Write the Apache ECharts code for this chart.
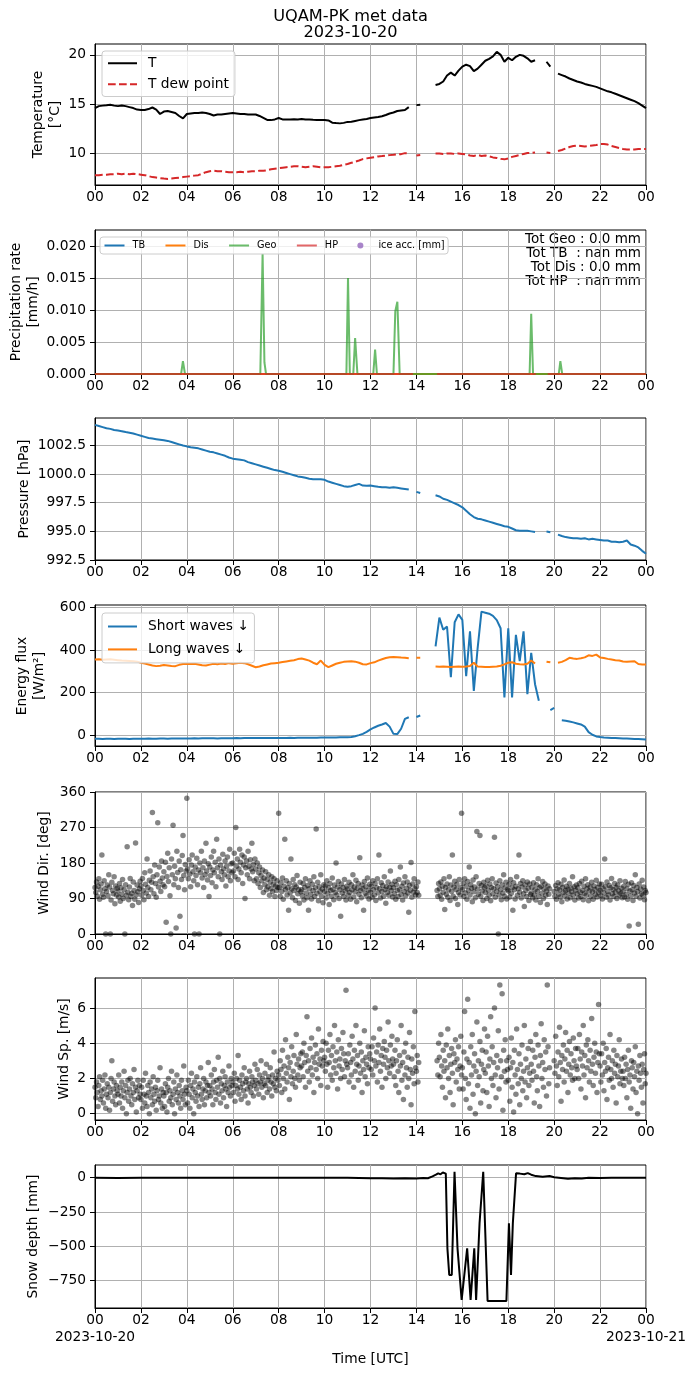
<!DOCTYPE html>
<html>
<head>
<meta charset="utf-8">
<title>UQAM-PK met data</title>
<script src="https://cdn.jsdelivr.net/npm/echarts@6.0.0/dist/echarts.min.js"></script>
<style>
  html, body { margin: 0; padding: 0; background: #fff; }
  #container { width: 696px; height: 1377px; }
</style>
</head>
<body>
<div id="container"></div>
<script>
const N = null;
const FONT = "DejaVu Sans";

// 10-minute series, 00:00 -> 24:00 (145 values, one row = 2 hours)
const temperature = [
  14.6, 14.8, 14.85, 14.88, 14.93, 14.85, 14.8, 14.87, 14.8, 14.7, 14.6, 14.45,
  14.4, 14.4, 14.5, 14.66, 14.45, 14.0, 14.25, 14.3, 14.2, 14.1, 13.8, 13.55,
  14.0, 14.05, 14.1, 14.1, 14.15, 14.1, 14.0, 13.85, 13.95, 13.95, 14.0, 14.05,
  14.1, 14.05, 14.0, 14.0, 13.95, 13.95, 13.95, 13.8, 13.6, 13.4, 13.38, 13.45,
  13.6, 13.45, 13.45, 13.45, 13.48, 13.45, 13.5, 13.45, 13.45, 13.42, 13.4, 13.38,
  13.4, 13.35, 13.12, 13.08, 13.05, 13.1, 13.2, 13.22, 13.3, 13.38, 13.45, 13.5,
  13.6, 13.65, 13.7, 13.78, 13.9, 14.05, 14.15, 14.3, 14.35, 14.4, 14.7, N,
  14.9, 14.95, N, N, N, 16.95, 17.05, 17.3, 17.9, 18.2, 17.9, 18.4,
  18.8, 19.0, 18.85, 18.35, 18.6, 19.0, 19.4, 19.6, 19.85, 20.3, 20.0, 19.3,
  19.7, 19.45, 19.8, 20.0, 19.9, 19.65, 19.3, 19.45, N, N, 19.3, 18.8,
  N, 18.1, 17.95, 17.8, 17.6, 17.45, 17.3, 17.2, 17.05, 16.95, 16.85, 16.75,
  16.6, 16.45, 16.3, 16.2, 16.05, 15.9, 15.75, 15.6, 15.45, 15.3, 15.1, 14.85,
  14.6
];
const dewPoint = [
  7.8, 7.8, 7.85, 7.85, 7.9, 7.9, 7.95, 7.9, 7.95, 7.9, 7.95, 7.9,
  7.85, 7.8, 7.7, 7.6, 7.55, 7.5, 7.45, 7.42, 7.45, 7.5, 7.55, 7.6,
  7.65, 7.7, 7.75, 7.8, 7.95, 8.1, 8.2, 8.25, 8.2, 8.2, 8.15, 8.1,
  8.1, 8.1, 8.15, 8.1, 8.15, 8.2, 8.2, 8.25, 8.25, 8.3, 8.4, 8.45,
  8.5, 8.55, 8.6, 8.65, 8.7, 8.7, 8.65, 8.6, 8.65, 8.7, 8.65, 8.6,
  8.6, 8.6, 8.65, 8.7, 8.75, 8.85, 8.93, 9.05, 9.16, 9.28, 9.43, 9.5,
  9.56, 9.62, 9.7, 9.73, 9.78, 9.83, 9.86, 9.9, 9.93, 10.03, 10.0, N,
  9.8, 9.85, N, N, N, 10.0, 10.0, 9.95, 10.0, 10.0, 9.95, 10.0,
  9.95, 9.9, 9.8, 9.75, 9.85, 9.75, 9.8, 9.7, 9.6, 9.55, 9.45, 9.4,
  9.5, 9.65, 9.75, 9.85, 9.95, 10.05, 10.05, 10.1, N, N, 10.1, 10.05,
  N, 10.25, 10.35, 10.5, 10.65, 10.75, 10.8, 10.75, 10.7, 10.75, 10.8, 10.85,
  10.95, 10.95, 10.9, 10.75, 10.65, 10.55, 10.45, 10.4, 10.4, 10.4, 10.45, 10.45,
  10.45
];
const pressure = [
  1004.3, 1004.2, 1004.1, 1004.0, 1003.95, 1003.85, 1003.8, 1003.75, 1003.67, 1003.62, 1003.55, 1003.45,
  1003.35, 1003.25, 1003.15, 1003.1, 1003.05, 1003.0, 1002.95, 1002.9, 1002.8, 1002.7, 1002.6, 1002.5,
  1002.42, 1002.35, 1002.3, 1002.25, 1002.15, 1002.05, 1001.95, 1001.9, 1001.8, 1001.7, 1001.6, 1001.45,
  1001.35, 1001.3, 1001.25, 1001.2, 1001.05, 1000.95, 1000.85, 1000.75, 1000.65, 1000.55, 1000.45, 1000.35,
  1000.3, 1000.2, 1000.1, 1000.0, 999.9, 999.8, 999.75, 999.68, 999.6, 999.55, 999.55, 999.55,
  999.5, 999.35, 999.25, 999.15, 999.05, 998.95, 998.9, 998.95, 999.05, 999.15, 999.0, 998.98,
  999.0, 998.95, 998.9, 998.85, 998.85, 998.8, 998.85, 998.8, 998.75, 998.7, 998.65, N,
  998.45, 998.35, N, N, N, 998.15, 998.05, 997.85, 997.75, 997.6, 997.45, 997.3,
  997.1, 996.8, 996.5, 996.25, 996.1, 996.05, 995.95, 995.85, 995.75, 995.65, 995.55, 995.45,
  995.4, 995.25, 995.1, 995.05, 995.05, 995.05, 995.0, 994.95, N, N, 994.98, 994.92,
  N, 994.72, 994.6, 994.5, 994.45, 994.4, 994.4, 994.35, 994.4, 994.3, 994.35, 994.3,
  994.25, 994.2, 994.2, 994.1, 994.1, 994.05, 994.1, 994.2, 993.85, 993.75, 993.6, 993.3,
  993.05
];
const shortWave = [
  -17, -17, -18, -17, -17, -18, -17, -17, -17, -18, -17, -17,
  -17, -17, -16, -17, -17, -16, -16, -17, -16, -16, -16, -16,
  -16, -16, -15, -16, -15, -15, -15, -15, -16, -15, -15, -15,
  -15, -14, -15, -14, -14, -14, -14, -14, -14, -13, -14, -13,
  -13, -13, -13, -12, -13, -12, -12, -12, -12, -12, -12, -11,
  -11, -11, -11, -11, -10, -10, -10, -9, -5, 0, 6, 15,
  27, 36, 44, 50, 57, 40, 6, 5, 30, 76, 84, N,
  85, 92, N, N, N, 417, 552, 495, 510, 272, 530, 567,
  541, 277, 487, 208, 409, 580, 575, 570, 560, 540, 502, 177,
  502, 177, 471, 347, 487, 192, 386, 239, 161, N, N, 118,
  128, N, 70, 68, 64, 60, 55, 50, 40, 14, 2, -6,
  -9, -11, -12, -13, -14, -15, -16, -16, -17, -18, -18, -19,
  -20
];
const longWave = [
  355, 356, 354, 355, 356, 354, 352, 350, 349, 348, 347, 345,
  340, 336, 332, 327, 324, 326, 329, 327, 325, 324, 330, 334,
  335, 334, 335, 332, 328, 327, 331, 335, 333, 336, 334, 338,
  335, 337, 340, 338, 333, 326, 319, 322, 328, 332, 336, 338,
  340, 343, 346, 349, 352, 357, 360, 355, 350, 340, 333, 350,
  330, 319, 327, 335, 340, 344, 346, 347, 345, 340, 333, 332,
  338, 342, 350, 356, 362, 366, 367, 366, 364, 363, 361, N,
  363, 363, N, N, N, 322, 321, 322, 321, 320, 321, 322,
  321, 322, 325, 340, 322, 321, 320, 320, 321, 322, 326, 332,
  340, 342, 335, 333, 332, 335, 350, 336, N, N, 345, 342,
  N, 340, 344, 352, 363, 360, 358, 361, 365, 375, 372, 378,
  365, 362, 358, 355, 352, 350, 346, 344, 346, 347, 334, 332,
  332
];

// precipitation rate [mm/h] as [hour, value]
const tbRate = [];
const disRate = [[0, 0], [24, 0]];
const geoRate = [
  [0, 0], [3.75, 0], [3.83, 0.002], [3.92, 0], [7.2, 0], [7.3, 0.0188], [7.38, 0.0018], [7.45, 0],
  [10.95, 0], [11.02, 0.015], [11.1, 0], [11.25, 0], [11.33, 0.0056], [11.43, 0],
  [12.12, 0], [12.2, 0.0038], [12.28, 0], [13.0, 0], [13.08, 0.0098], [13.17, 0.0113], [13.27, 0],
  [18.93, 0], [19.0, 0.0094], [19.08, 0], [20.2, 0], [20.27, 0.002], [20.35, 0], [24, 0]
];
const hpRate = [[0, 0], [13.85, 0], [13.9, N], [14.9, 0], [19.2, 0], [19.25, N], [19.72, 0], [24, 0]];
const iceAcc = [];

// snow depth [mm] as [hour, value]
const snowDepth = [
  [0, 0], [1, -2], [2, 0], [3, 0], [4, 0], [5, 0], [6, 0], [7, 0], [8, 0], [9, 0], [10, 0], [11, 0],
  [12, -3], [12.5, -4], [13, -6], [13.5, -3], [14, -6], [14.3, -2], [14.5, -4], [14.7, 10], [14.85, 22],
  [14.95, 32], [15.05, 25], [15.15, 38], [15.22, 44], [15.28, 30], [15.35, -516], [15.43, -711],
  [15.54, -711], [15.66, 44], [15.79, -516], [15.85, -520], [15.97, -893], [16.05, -893], [16.21, -516],
  [16.36, -893], [16.44, -893], [16.52, -516], [16.6, -893], [16.75, -333], [16.91, 44], [16.98, 32],
  [17.1, -900], [17.92, -900], [18.03, -333], [18.12, -711], [18.2, -333], [18.28, -333], [18.34, 32],
  [18.5, 30], [18.7, 25], [18.85, 34], [19.0, 22], [19.2, 12], [19.5, 8], [19.8, 12], [20, 4],
  [20.3, -2], [20.6, -8], [20.9, -3], [21.2, -6], [21.5, 0], [22, -2], [22.5, 0], [23, 0], [24, 0]
];

// 2-minute samples, one row = 1 hour (30 values), last value at 24:00
const windDir = [
  118,105,132,96,121,140,88,112,127,200,101,93,135,115,0,108,124,97,150,119,0,86,131,110,102,145,77,122,99,116,
  109,94,128,83,117,101,138,90,112,0,125,98,221,106,87,119,141,95,103,72,132,110,88,231,99,124,107,80,115,134,
  122,98,141,110,87,155,126,104,190,118,95,136,160,112,131,308,145,102,175,128,93,150,282,119,170,134,108,185,142,125,
  158,120,182,30,146,205,133,168,97,0,190,150,276,125,172,140,15,210,156,118,185,45,163,138,199,250,148,112,176,160,
  344,165,140,188,152,120,175,200,158,135,0,170,148,192,125,162,0,180,155,210,142,168,118,185,150,230,160,137,178,95,
  170,148,195,130,162,210,155,182,120,240,168,145,190,0,175,158,138,202,165,150,185,122,172,195,145,160,215,135,178,155,
  180,160,205,145,270,172,190,138,165,215,182,155,200,128,175,195,90,168,185,150,210,172,140,188,165,230,158,176,135,190,
  165,140,180,128,155,170,118,148,135,162,105,142,125,158,112,138,120,150,98,132,115,145,108,126,140,95,122,110,135,118,
  306,118,95,130,108,142,88,121,240,112,135,99,117,60,128,104,190,115,92,138,110,125,85,119,148,102,113,78,131,107,
  112,97,128,86,118,140,104,92,123,60,115,135,101,89,126,110,145,95,117,266,103,131,84,120,108,150,96,114,79,125,
  108,122,91,135,103,117,75,128,110,96,142,113,87,124,105,180,99,119,133,90,112,45,127,104,118,95,138,109,86,121,
  114,98,131,105,88,125,112,150,94,119,107,136,82,116,128,101,193,110,92,124,115,60,133,103,120,97,142,111,89,126,
  106,121,93,135,112,99,128,85,117,140,104,200,115,91,130,108,123,96,145,113,78,120,105,132,98,118,160,110,126,94,
  117,102,134,88,125,110,95,138,113,170,100,121,86,129,108,145,97,116,132,104,55,123,111,181,93,127,106,140,115,99,
  120,105,132,98,N,N,N,N,N,N,N,N,N,N,N,N,N,N,N,N,N,N,N,N,N,N,N,110,95,128,
  115,98,132,88,121,106,140,62,118,101,127,93,112,145,85,124,108,200,96,119,134,90,113,126,75,105,138,99,117,306,
  112,128,95,140,104,121,88,133,110,170,99,125,116,82,137,107,119,92,145,260,114,101,128,250,96,123,109,85,131,118,
  105,122,90,136,111,98,127,84,118,140,102,115,245,93,129,108,120,0,99,135,112,87,124,104,150,96,117,131,89,113,
  109,126,94,138,103,117,60,130,112,89,121,145,98,115,200,106,128,91,119,135,102,70,124,110,95,132,116,85,127,100,
  104,118,92,130,99,112,86,125,108,140,95,117,80,121,103,133,90,114,127,98,109,75,122,101,115,N,N,N,N,N,
  108,96,123,88,115,130,101,112,94,126,82,118,105,137,97,110,121,89,114,103,128,92,116,107,145,99,120,86,111,124,
  102,117,91,128,106,95,134,110,87,121,103,140,98,115,125,84,109,119,96,131,107,88,122,113,100,136,94,118,105,127,
  111,97,126,89,115,104,190,120,93,132,108,99,123,86,117,141,102,113,95,128,106,118,90,124,110,98,135,103,116,92,
  107,121,94,133,100,115,88,126,20,109,97,130,112,85,123,104,150,96,118,108,25,127,91,114,102,136,99,119,87,110,
  105
];
const windSpeed = [
  1.5,0.9,1.8,1.2,0.4,1.6,2.1,0.8,1.3,1.0,1.9,0.6,1.4,2.2,0.3,1.1,1.7,0.9,1.5,0.2,1.2,2.0,3.0,0.7,1.4,1.8,1.0,0.5,1.6,1.3,
  1.1,2.2,0.6,1.5,1.0,1.8,0.3,1.3,2.4,0.9,1.6,0.0,1.2,1.9,0.7,1.4,2.0,1.0,0.5,1.7,1.2,2.5,0.8,1.5,0.1,1.3,1.9,0.9,1.6,1.1,
  0.8,1.5,0.3,1.9,1.1,0.6,2.3,1.0,0.4,1.6,1.2,0.0,1.8,0.9,1.4,0.5,2.1,1.1,0.7,1.5,0.2,1.3,1.9,0.8,1.0,2.6,0.6,1.4,0.3,1.2,
  1.0,0.4,1.7,1.2,0.1,1.5,2.0,0.7,1.3,0.9,2.4,0.5,1.1,1.8,0.0,1.4,0.8,2.2,1.2,0.6,1.6,1.0,0.3,1.9,1.3,0.8,2.7,1.1,0.5,1.5,
  1.3,0.6,1.9,1.1,0.3,1.6,2.3,0.9,1.4,0.0,1.8,1.2,0.7,2.1,1.0,1.5,0.4,1.7,2.6,1.1,0.8,1.4,2.0,0.5,1.3,1.8,0.9,1.6,2.9,1.2,
  1.6,1.0,2.2,1.4,0.5,1.8,2.5,1.2,0.8,1.9,1.5,3.2,1.1,2.0,0.6,1.7,1.3,2.4,0.9,1.6,2.1,1.4,0.4,1.8,1.2,2.7,1.5,1.0,2.0,1.6,
  1.8,1.2,2.3,0.7,1.6,2.0,1.4,3.3,1.1,1.9,1.5,0.8,2.2,1.7,1.3,2.6,1.0,1.8,2.0,1.4,0.6,1.7,2.4,1.5,1.2,2.1,1.8,1.0,1.6,2.8,
  1.9,1.4,2.5,1.7,1.1,2.2,1.8,3.0,1.5,2.0,0.9,1.7,2.3,1.6,2.8,1.2,1.9,2.1,1.4,2.6,1.8,1.0,2.2,1.7,3.5,1.5,2.0,1.3,2.4,1.9,
  2.2,1.6,3.0,2.5,1.2,3.6,2.0,2.7,1.4,4.2,2.3,1.8,3.2,2.6,0.8,2.9,2.1,3.8,1.7,2.4,3.3,2.0,1.5,4.5,2.8,2.2,3.1,1.9,2.6,3.4,
  2.7,3.5,2.1,4.0,2.9,1.5,3.3,5.5,2.4,3.0,1.8,3.7,2.6,4.3,2.2,3.2,1.2,2.9,3.9,2.5,3.4,2.0,4.8,2.8,3.1,1.6,3.6,2.7,4.1,3.0,
  3.2,2.4,4.0,2.8,1.5,3.6,2.9,4.5,2.2,3.3,1.9,3.8,2.6,5.0,3.0,2.3,3.5,1.4,4.2,2.7,3.1,2.0,3.7,2.5,4.6,3.4,2.1,3.0,7.0,2.8,
  2.6,3.4,1.8,3.9,2.9,2.2,4.4,3.1,1.5,3.6,2.4,5.0,2.8,3.3,1.9,2.7,4.0,2.3,3.5,1.2,3.0,2.5,4.7,2.1,3.2,2.8,1.7,3.8,2.6,3.4,
  3.1,2.5,3.8,2.2,4.3,3.0,6.0,2.7,3.5,1.8,3.9,2.9,4.8,2.4,3.3,1.5,3.7,2.8,4.1,3.2,2.0,3.6,2.6,5.2,3.0,2.3,3.9,2.7,4.4,3.1,
  2.8,2.1,3.6,1.6,3.0,4.2,2.4,1.2,3.3,2.7,5.0,1.9,2.9,0.8,3.5,2.2,4.0,2.6,1.5,3.2,2.0,4.6,2.5,0.5,3.1,2.3,3.8,1.7,5.8,2.6,
  2.4,3.3,1.8,2.9,N,N,N,N,N,N,N,N,N,N,N,N,N,N,N,N,N,N,N,N,N,N,N,3.0,2.2,4.0,
  3.2,2.1,4.5,2.7,1.5,3.6,2.4,3.0,0.9,3.9,2.6,4.8,2.0,3.3,1.2,2.8,3.7,2.3,0.5,3.4,2.9,4.2,1.8,3.1,2.5,3.8,1.4,2.7,4.4,2.2,
  2.6,1.4,3.5,5.8,2.0,0.8,3.1,6.5,1.7,2.9,0.3,3.8,2.2,4.5,1.1,2.7,3.4,0.0,2.4,5.2,1.6,3.0,2.1,4.1,0.6,2.8,3.6,1.3,2.5,4.8,
  2.3,3.5,1.2,4.4,2.7,0.4,3.1,5.5,2.0,3.8,1.6,2.9,6.0,2.2,0.9,3.3,2.6,4.7,1.4,7.3,3.0,2.1,6.8,0.2,3.6,2.4,4.2,1.8,3.0,2.5,
  1.9,3.2,0.7,2.6,4.3,1.5,2.9,0.1,3.6,2.2,1.1,4.8,2.5,1.7,3.4,0.5,2.8,2.0,3.9,1.3,2.4,5.0,1.8,3.1,0.9,2.6,3.7,1.6,2.3,4.1,
  2.8,1.9,3.6,2.4,0.6,3.2,4.5,2.1,1.3,3.9,2.7,0.4,3.3,5.1,2.0,2.9,1.5,4.2,2.5,3.5,1.0,7.3,3.8,1.7,2.6,N,N,N,N,N,
  3.0,2.3,4.4,2.7,1.6,3.5,2.1,4.9,2.9,0.7,3.3,2.5,3.9,1.8,3.1,4.6,2.4,3.6,1.2,2.8,4.1,2.2,3.4,2.6,1.9,4.3,3.0,2.0,3.7,2.7,
  2.5,3.7,2.0,4.5,3.1,1.4,3.5,2.7,5.0,2.2,3.3,0.9,3.9,2.6,4.2,3.0,1.8,3.6,2.4,5.4,2.8,1.6,3.2,4.0,2.3,3.5,1.2,2.9,6.2,3.4,
  2.7,1.8,3.4,2.2,4.0,1.3,2.9,2.4,3.7,0.8,2.6,3.2,1.9,4.5,2.5,2.0,3.0,1.5,3.6,2.3,2.8,0.6,3.3,2.1,2.7,4.2,1.7,2.4,3.1,2.0,
  2.4,1.6,3.2,2.0,2.8,0.9,2.5,3.6,1.8,2.2,0.3,3.0,2.6,1.4,2.9,2.1,3.8,1.2,2.4,0.0,2.7,1.9,3.3,2.3,1.5,2.8,0.6,2.5,3.4,1.7,
  2.3
];

// tick values of the y axes
const tempTicks = [10, 15, 20];
const precipTicks = [0, 0.005, 0.01, 0.015, 0.02];
const pressureTicks = [992.5, 995, 997.5, 1000, 1002.5];
const fluxTicks = [0, 200, 400, 600];
const dirTicks = [0, 90, 180, 270, 360];
const speedTicks = [0, 2, 4, 6];
const snowTicks = [-750, -500, -250, 0];
const dayLabels = ["2023-10-20", "2023-10-21"];

const tenMin = [];
for (let i = 0; i <= 144; i++) tenMin.push(i / 6);
const twoMin = [];
for (let i = 0; i <= 720; i++) twoMin.push(i / 30);

const pairs = (times, values) => times.map((t, i) => [t, values[i]]);
const points = (times, values) =>
  times.map((t, i) => [t, values[i]]).filter((p) => p[1] !== null);

const panels = [
  { top: 44, height: 141, min: 6.8, max: 21.1, ticks: tempTicks, fmt: (v) => String(v) },
  { top: 230, height: 144, min: 0, max: 0.0225, ticks: precipTicks, fmt: (v) => v.toFixed(3) },
  { top: 418, height: 142, min: 992.5, max: 1004.9, ticks: pressureTicks, fmt: (v) => v.toFixed(1) },
  { top: 605, height: 141, min: -51, max: 611, ticks: fluxTicks, fmt: (v) => String(v) },
  { top: 792, height: 142, min: 0, max: 360, ticks: dirTicks, fmt: (v) => String(v) },
  { top: 978, height: 142, min: -0.36, max: 7.7, ticks: speedTicks, fmt: (v) => String(v) },
  { top: 1165, height: 143, min: -952, max: 93, ticks: snowTicks, fmt: (v) => String(v).replace("-", "\u2212") },
];

const axisLine = { show: true, onZero: false, lineStyle: { color: "#000", width: 1 } };
const gridLine = { show: true, lineStyle: { color: "#b0b0b0", width: 1 } };
const pad = (v) => String(Math.round(v) % 24).padStart(2, "0");

const grids = panels.map((p) => ({
  left: 95, width: 551, top: p.top, height: p.height,
  show: true, borderColor: "#000", borderWidth: 1, backgroundColor: "#fff",
}));

const xAxes = panels.map((p, i) => ({
  type: "value", gridIndex: i, min: 0, max: 24, interval: 2,
  axisLine: axisLine,
  axisTick: { show: true, length: 5, lineStyle: { color: "#000" } },
  axisLabel: {
    color: "#000", fontFamily: FONT, fontSize: 13.8, margin: 3.5, lineHeight: 17,
    showMinLabel: true, showMaxLabel: true, formatter: pad,
  },
  splitLine: gridLine,
}));

const yAxes = panels.map((p, i) => ({
  type: "value", gridIndex: i, min: p.min, max: p.max,
  axisLine: axisLine,
  axisTick: { show: true, length: 5, customValues: p.ticks, lineStyle: { color: "#000" } },
  axisLabel: {
    customValues: p.ticks, formatter: p.fmt,
    color: "#000", fontFamily: FONT, fontSize: 13.8, margin: 9,
  },
  splitLine: gridLine,
}));

const line = (name, idx, data, color, extra) =>
  Object.assign(
    {
      name: name, type: "line", xAxisIndex: idx, yAxisIndex: idx, data: data,
      symbol: "none", connectNulls: false,
      lineStyle: { color: color, width: 2 }, itemStyle: { color: color },
    },
    extra || {}
  );

const dots = (name, idx, data) => ({
  name: name, type: "scatter", xAxisIndex: idx, yAxisIndex: idx, data: data,
  symbolSize: 5.5, itemStyle: { color: "rgba(0,0,0,0.6)" },
});

const series = [
  line("T", 0, pairs(tenMin, temperature), "#000000"),
  line("T dew point", 0, pairs(tenMin, dewPoint), "#d62728", {
    lineStyle: { color: "#d62728", width: 2, type: [7.7, 3.3] },
  }),
  line("TB", 1, tbRate, "#1f77b4"),
  line("Dis", 1, disRate, "#ff7f0e"),
  line("Geo", 1, geoRate, "rgba(44,160,44,0.7)"),
  line("HP", 1, hpRate, "rgba(214,39,40,0.7)"),
  {
    name: "ice acc. [mm]", type: "scatter", xAxisIndex: 1, yAxisIndex: 1,
    data: iceAcc, symbolSize: 5, itemStyle: { color: "#9467bd" },
  },
  line("Pressure", 2, pairs(tenMin, pressure), "#1f77b4"),
  line("Short waves \u2193", 3, pairs(tenMin, shortWave), "#1f77b4"),
  line("Long waves \u2193", 3, pairs(tenMin, longWave), "#ff7f0e"),
  dots("Wind Dir.", 4, points(twoMin, windDir)),
  dots("Wind Sp.", 5, points(twoMin, windSpeed)),
  line("Snow depth", 6, snowDepth, "#000000"),
];

// line entries: hide the marker ECharts puts in the middle of the legend line
const lineEntry = (name) => ({ name: name, itemStyle: { opacity: 0 } });

const legendBox = {
  backgroundColor: "rgba(255,255,255,0.8)", borderColor: "#cccccc", borderWidth: 1,
  borderRadius: 3, selectedMode: false,
};

const legends = [
  Object.assign({}, legendBox, {
    data: [lineEntry("T"), lineEntry("T dew point")], orient: "vertical", left: 102, top: 51,
    itemWidth: 29, itemHeight: 14, itemGap: 6.5, padding: [5, 6, 5, 5],
    textStyle: { color: "#000", fontFamily: FONT, fontSize: 13.8, lineHeight: 14.5, padding: [0, 0, 0, 6] },
  }),
  Object.assign({}, legendBox, {
    data: [lineEntry("TB"), lineEntry("Dis"), lineEntry("Geo"), lineEntry("HP"), { name: "ice acc. [mm]" }],
    orient: "horizontal", left: 100, top: 237,
    itemWidth: 20, itemHeight: 6, itemGap: 19.4, padding: [3, 3.5, 3, 3.5],
    textStyle: { color: "#000", fontFamily: FONT, fontSize: 9.7, lineHeight: 11, padding: [0, 0, 0, 3] },
  }),
  Object.assign({}, legendBox, {
    data: [lineEntry("Short waves \u2193"), lineEntry("Long waves \u2193")], orient: "vertical", left: 102, top: 613,
    itemWidth: 29, itemHeight: 14, itemGap: 6.9, padding: [5.5, 5.5, 5.5, 5],
    textStyle: { color: "#000", fontFamily: FONT, fontSize: 13.8, lineHeight: 16, padding: [0, 0, 0, 6] },
  }),
];

const label = (text, x, y, opts) => ({
  type: "text", x: x, y: y, rotation: (opts && opts.rotation) || 0, silent: true,
  style: Object.assign(
    {
      text: text, fill: "#000", fontFamily: FONT, fontSize: 13.8, lineHeight: 17,
      align: "center", verticalAlign: "middle",
    },
    (opts && opts.style) || {}
  ),
});
const vertical = { rotation: Math.PI / 2 };

const graphics = [
  label("UQAM-PK met data\n2023-10-20", 350.5, 25, { style: { fontSize: 16.2, lineHeight: 16 } }),
  label("Temperature\n[\u00b0C]", 46.5, 114.5, vertical),
  label("Precipitation rate\n[mm/h]", 24.5, 302, vertical),
  label("Pressure [hPa]", 24, 489, vertical),
  label("Energy flux\n[W/m\u00b2]", 31, 676, vertical),
  label("Wind Dir. [deg]", 44, 863, vertical),
  label("Wind Sp. [m/s]", 64, 1049, vertical),
  label("Snow depth [mm]", 33, 1236.5, vertical),
  // second line of the first and last time tick labels of the bottom panel
  label(dayLabels[0], 95, 1337.5),
  label(dayLabels[1], 646, 1337.5),
  label("Time [UTC]", 370.5, 1359),
  label("Tot Geo : 0.0 mm\nTot TB  : nan mm\nTot Dis : 0.0 mm\nTot HP  : nan mm", 641, 233, {
    style: { align: "right", verticalAlign: "top", fontSize: 13.5, lineHeight: 13.9 },
  }),
];

const dom = document.getElementById("container");
const myChart = echarts.init(dom, null, { renderer: "canvas" });

myChart.setOption({
  backgroundColor: "#FFFFFF",
  animation: false,
  textStyle: { fontFamily: FONT },
  grid: grids,
  xAxis: xAxes,
  yAxis: yAxes,
  legend: legends,
  series: series,
  graphic: graphics,
});
</script>
</body>
</html>
